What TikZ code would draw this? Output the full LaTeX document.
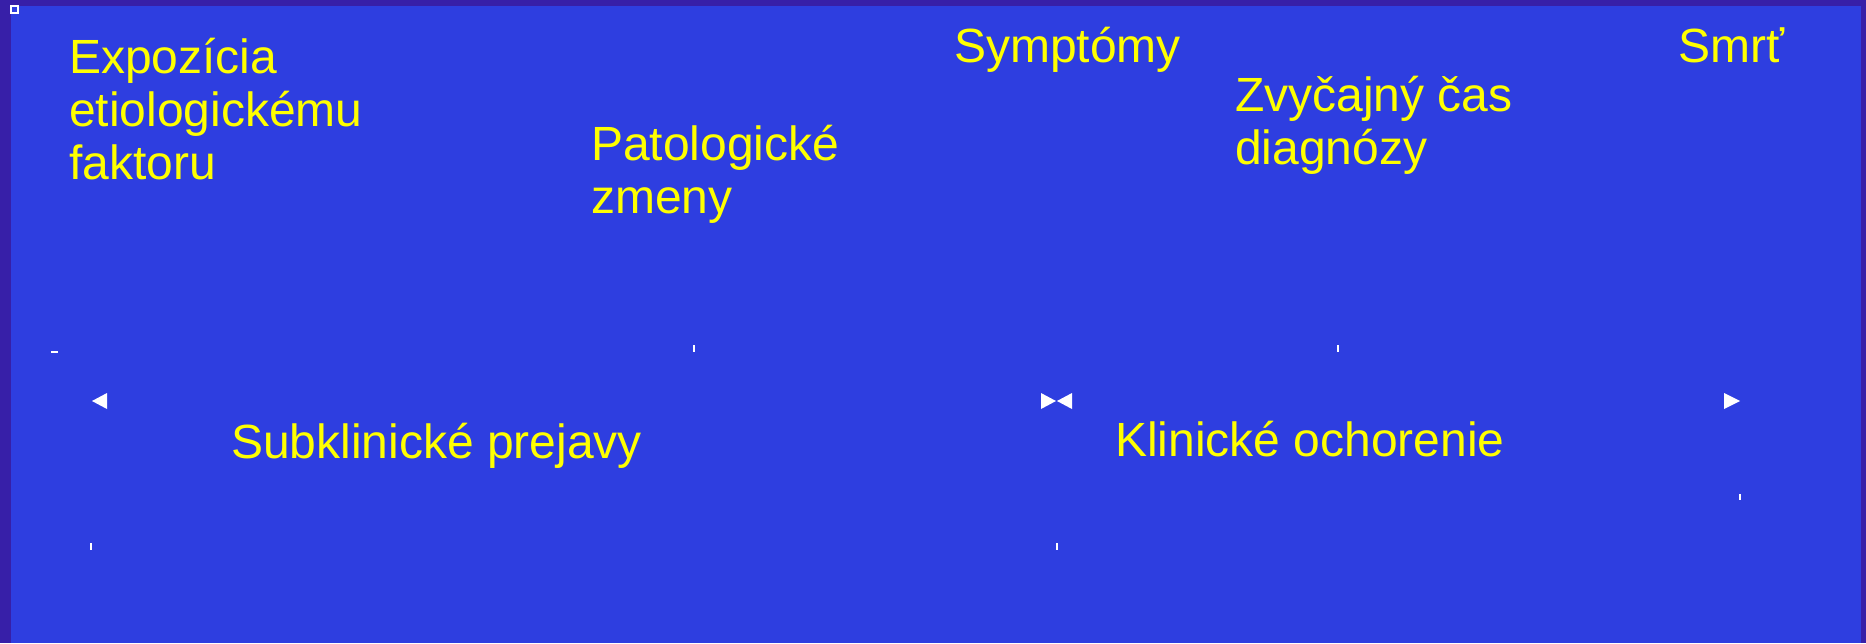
\documentclass[tikz,border=0pt]{standalone}
\usepackage{fontspec}
\setmainfont{Liberation Sans}
\definecolor{bgblue}{RGB}{46,62,224}
\definecolor{framecol}{RGB}{55,31,168}
\definecolor{txtyellow}{RGB}{255,255,0}
\begin{document}
\begin{tikzpicture}[x=1pt,y=-1pt,
  lbl/.style={text=txtyellow, font=\fontsize{48}{53}\selectfont, inner sep=0pt, anchor=base west, align=left},
  tickline/.style={draw=white, line width=2pt},
  tri/.style={fill=white}]
\useasboundingbox (0,0) rectangle (1866,643);
\fill[framecol] (0,0) rectangle (1866,643);
\fill[bgblue] (11,6) rectangle (1861,643);
\draw[white, line width=2pt, fill=bgblue] (11,6) rectangle (18,13);
% texts (base anchor = baseline of the last line)
\node[lbl] (expo) at (69,179) {Expozícia\\etiologickému\\faktoru};
\node[lbl] (pato) at (591,213) {Patologické\\zmeny};
\node[lbl] (symp) at (954,62) {Symptómy};
\node[lbl] (zvyc) at (1235,164) {Zvyčajný čas\\diagnózy};
\node[lbl] (smrt) at (1678,62) {Smrť};
\node[lbl] (subk) at (231,458) {Subklinické prejavy};
\node[lbl] (klin) at (1115,456) {Klinické ochorenie};
% arrowheads
\fill[tri] (92,401) -- (107,393) -- (107,409) -- cycle;
\fill[tri] (1041,393) -- (1056,401) -- (1041,409) -- cycle;
\fill[tri] (1072,393) -- (1057,401) -- (1072,409) -- cycle;
\fill[tri] (1724,393) -- (1740,401) -- (1724,409) -- cycle;
% small ticks
\draw[tickline] (51,352) -- (58,352);
\draw[tickline] (694,345) -- (694,352);
\draw[tickline] (1338,345) -- (1338,352);
\draw[tickline] (91,543) -- (91,550);
\draw[tickline] (1057,543) -- (1057,550);
\draw[tickline] (1740,494) -- (1740,500);
\end{tikzpicture}
\end{document}
